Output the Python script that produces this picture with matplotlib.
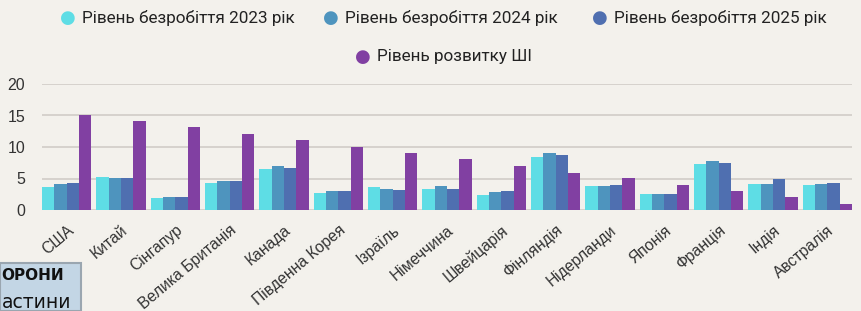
import numpy as np
import matplotlib.pyplot as plt
from matplotlib.patches import Rectangle

countries = ["США", "Китай", "Сінгапур", "Велика Британія", "Канада", "Південна Корея",
             "Ізраїль", "Німеччина", "Швейцарія", "Фінляндія", "Нідерланди", "Японія",
             "Франція", "Індія", "Австралія"]
unemp_2023 = [3.65, 5.2, 1.85, 4.35, 6.45, 2.7, 3.6, 3.4, 2.4, 8.4, 3.8, 2.55, 7.35, 4.1, 3.95]
unemp_2024 = [4.2, 5.1, 2.05, 4.6, 7.0, 3.05, 3.3, 3.8, 2.9, 9.0, 3.8, 2.55, 7.7, 4.1, 4.15]
unemp_2025 = [4.35, 5.1, 2.05, 4.6, 6.7, 3.05, 3.1, 3.4, 3.05, 8.8, 4.0, 2.55, 7.5, 4.9, 4.35]
ai_level = [15, 14.2, 13.1, 12.05, 11.1, 10.0, 9.0, 8.1, 7.0, 5.9, 5.1, 4.0, 3.05, 2.0, 0.95]

labels = ["Рівень безробіття 2023 рік", "Рівень безробіття 2024 рік",
          "Рівень безробіття 2025 рік", "Рівень розвитку ШІ"]
colors = ["#5edde5", "#4e94be", "#4f6fb0", "#8140a2"]
bg = "#f3f1ec"

fig = plt.figure(figsize=(8.61, 3.11), dpi=100, facecolor=bg)
ax = fig.add_axes([42 / 861, 101 / 311, 810 / 861, 126 / 311], facecolor=bg)

x = np.arange(len(countries))
w = 0.228
series = [unemp_2023, unemp_2024, unemp_2025, ai_level]
for i, vals in enumerate(series):
    ax.bar(x + (i - 1.5) * w, vals, width=w, color=colors[i], zorder=3)

ax.set_ylim(0, 20)
ax.set_xlim(-0.455, 14.455)
ax.set_yticks([0, 5, 10, 15, 20])
ax.yaxis.grid(True, color="#d3cfca", linewidth=1.3, zorder=0)
ax.tick_params(axis="both", length=0, labelsize=11.5, colors="#333333")
ax.tick_params(axis="y", pad=12)
ax.tick_params(axis="x", pad=9)
ax.set_xticks(x)
ax.set_xticklabels(countries, rotation=40, ha="right", rotation_mode="anchor",
                   fontsize=11.3, family="Liberation Sans")
for lab in ax.get_yticklabels():
    lab.set_family("Liberation Sans")
for s in ax.spines.values():
    s.set_visible(False)

# legend (two centred rows)
leg_font = dict(fontsize=12.3, family=["Roboto", "DejaVu Sans"], color="#222222", va="center")
pos = [(68, 18), (331, 18), (600, 18), (363, 57)]
for (px, py), lab, c in zip(pos, labels, colors):
    fig.text(px / 861, 1 - py / 311, "●", color=c, fontsize=13, ha="center", va="center")
    fig.text((px + 14) / 861, 1 - py / 311, lab, **leg_font)

# fragment of another slide in the lower left corner
fig.patches.append(Rectangle((0, 0), 81 / 861, 48 / 311, transform=fig.transFigure,
                             facecolor="#c3d6e5", edgecolor="#9aa6b0", linewidth=1.5))
fig.text(1 / 861, 1 - 275 / 311, "ОРОНИ", fontsize=11, fontweight="heavy", ha="left",
         va="center", color="#111111", family="DejaVu Sans")
fig.text(2 / 861, 1 - 302 / 311, "астини", fontsize=13.5, ha="left", va="center",
         color="#111111", family="DejaVu Sans")

fig.savefig("out.png", dpi=100, facecolor=bg)
